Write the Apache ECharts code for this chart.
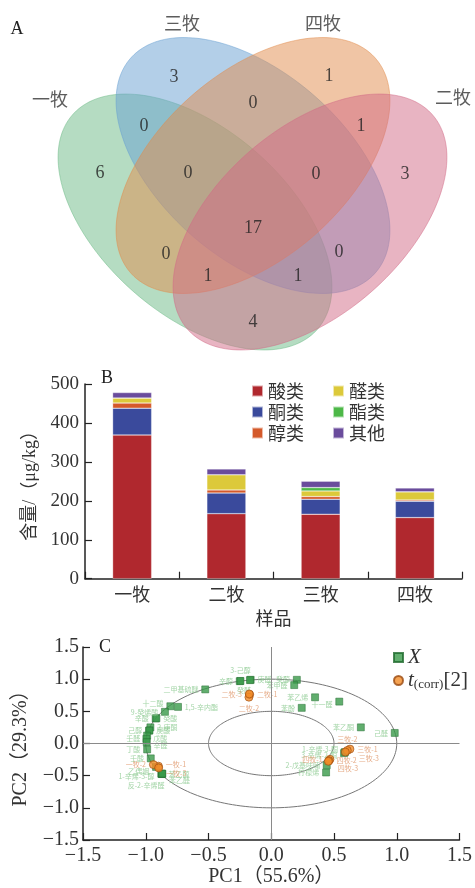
<!DOCTYPE html>
<html><head><meta charset="utf-8">
<script src="https://cdn.jsdelivr.net/npm/echarts@6/dist/echarts.min.js"></script>
<style>html,body{margin:0;padding:0;background:#fff}#c{width:475px;height:888px}</style>
</head><body><div id="c"></div>
<script>
const FONT = "'Liberation Serif','Noto Sans CJK SC',serif";
const CJK = "'Noto Sans CJK SC',sans-serif";

// ---------- Panel A data (Venn) ----------
const vennSetNames = ['一牧', '三牧', '四牧', '二牧'];
const vennRegionNames = ['一牧', '三牧', '四牧', '二牧', '一牧∩三牧', '三牧∩四牧', '四牧∩二牧',
  '一牧∩三牧∩四牧', '三牧∩四牧∩二牧', '一牧∩四牧', '全部', '三牧∩二牧', '一牧∩四牧∩二牧', '一牧∩三牧∩二牧', '一牧∩二牧'];
const vennCounts = [6, 3, 1, 3, 0, 0, 1, 0, 0, 0, 17, 0, 1, 1, 4];

// ---------- Panel B data (stacked bars) ----------
const barCategories = ['一牧', '二牧', '三牧', '四牧'];
const barSeriesNames = ['酸类', '酮类', '醇类', '醛类', '酯类', '其他'];
const acids = [369, 167, 165.5, 157];
const ketones = [69, 53, 38.5, 42];
const alcohols = [13, 8, 7, 3];
const aldehydes = [13, 39, 14.5, 21];
const esters = [0, 0, 8.5, 0];
const others = [14, 15, 16.4, 10];
const barValues = [acids, ketones, alcohols, aldehydes, esters, others];

// ---------- Panel C data (loading / score plot) ----------
const loadingNames = ['辛醇','3-己醇','庚醛','癸醛','癸醇','苯甲醛','二甲基硫醚','苯乙烯','十一醛','苯酚',
  '十二酸','1,5-辛内酯','9-癸烯酸','辛酸','癸酸','2-庚酮','己醇','庚酸','壬醛','戊酸','辛醛','丁酸','壬酸',
  '乙偶姻','苯乙醇','1-辛烯-3-醇','反-2-辛烯醛','苯乙醛','苯乙酮','己醛','1-辛烯-3-酮','3-辛烯-2-酮','2-戊基呋喃','柠檬烯'];
const loadingPC1 = [-0.251,-0.245,-0.164,-0.170,0.204,0.183,-0.526,0.349,0.542,0.243,
  -0.804,-0.743,-0.847,-0.921,-0.915,-0.963,-0.974,-0.970,-0.989,-0.995,-0.992,-0.989,-0.960,
  -0.918,-0.873,-0.876,-0.870,-0.868,0.714,0.984,0.587,0.580,0.442,0.437];
const loadingPC2 = [0.969,0.972,0.990,0.985,0.990,0.908,0.841,0.718,0.651,0.554,
  0.579,0.569,0.492,0.390,0.392,0.251,0.200,0.203,0.123,0.072,0.020,-0.092,-0.231,
  -0.364,-0.472,-0.470,-0.475,-0.468,0.251,0.164,-0.133,-0.150,-0.338,-0.451];
const sampleNames = ['一牧-1','一牧-2','一牧-3','二牧-1','二牧-2','二牧-3','三牧-1','三牧-2','三牧-3','四牧-1','四牧-2','四牧-3'];
const samplePC1 = [-0.899,-0.939,-0.897,-0.172,-0.178,-0.175,0.627,0.606,0.590,0.468,0.460,0.455];
const samplePC2 = [-0.352,-0.328,-0.379,0.760,0.720,0.770,-0.087,-0.108,-0.133,-0.246,-0.267,-0.277];
const circleRadii = [1, 0.5];

// ---------- Layout (positions / styles) ----------
const vennShapeLayout = [
  {cx:195, cy:222, dir:1,  color:'rgba(107,185,133,0.5)'},
  {cx:253, cy:165.5, dir:1, color:'rgba(103,159,209,0.5)'},
  {cx:253, cy:165.5, dir:-1, color:'rgba(225,139,75,0.5)'},
  {cx:310, cy:222, dir:-1, color:'rgba(209,105,133,0.5)'}
];
const VA = 157, VB = 90, VKX = 1.07;
const vennSetLabelPos = [[50,99],[182,23],[323,23],[453,97]];
const vennRegionPos = [[100,173],[174,77],[329,76],[405,174],[144,126],[253,103],[361,126],
  [188,173],[316,174],[166,254],[253,228],[339,252],[208,276],[298,276],[253,322]];
const barColors = ['#b0282e','#3a4a9c','#d4592a','#dcc93a','#4db848','#6a4c9c'];
const loadingLabelLayout = {
  '辛醇':['left'],'3-己醇':['top'],'庚醛':['right'],'癸醛':['bottom',[-6,0]],'癸醇':['left'],'苯甲醛':['left'],
  '二甲基硫醚':['left'],'苯乙烯':['left'],'十一醛':['left',[0,3]],'苯酚':['left'],'十二酸':['left',[0,-3]],
  '1,5-辛内酯':['right'],'9-癸烯酸':['left'],'辛酸':['left'],'癸酸':['right'],'2-庚酮':['right'],'己醇':['left'],
  '庚酸':['right'],'壬醛':['left',[0,3]],'戊酸':['right',[0,-1]],'辛醛':['right',[0,3]],'丁酸':['left'],'壬酸':['left'],
  '乙偶姻':['left',[0,4]],'苯乙醇':['right'],'1-辛烯-3-醇':['left',[0,3]],'反-2-辛烯醛':['bottom',[-16,1]],
  '苯乙醛':['right',[0,7]],'苯乙酮':['left'],'己醛':['left'],'1-辛烯-3-酮':['left',[0,-3]],'3-辛烯-2-酮':['left',[0,2]],
  '2-戊基呋喃':['left'],'柠檬烯':['left']
};
const sampleLabelLayout = {
  '一牧-1':['right',[0,-2]],'一牧-2':['left'],'一牧-3':['right',[0,5]],'二牧-1':['right'],'二牧-2':['bottom'],
  '二牧-3':['left'],'三牧-1':['right'],'三牧-2':['top'],'三牧-3':['right',[6,6]],'四牧-1':['left'],
  '四牧-2':['right'],'四牧-3':['right',[2,7]]
};

const chart = echarts.init(document.getElementById('c'), null, {renderer:'canvas'});

function fmtPC(v){ return v < 0 ? '\u2212' + Math.abs(v).toFixed(1) : v.toFixed(1); }

const series = [];
// Venn ellipses
series.push({
  type:'custom', xAxisIndex:0, yAxisIndex:0, silent:true, z:1,
  data: vennSetNames.map((n,i)=>({name:n, value:[i,0]})),
  renderItem: function(params, api){
    const L = vennShapeLayout[params.dataIndex];
    const pts = [];
    for (let k=0;k<=180;k++){
      const t = k/180*2*Math.PI;
      const ux = L.dir*(VA*Math.cos(t) - VB*Math.sin(t))/Math.SQRT2;
      const uy = (VA*Math.cos(t) + VB*Math.sin(t))/Math.SQRT2;
      pts.push(api.coord([L.cx + VKX*ux, L.cy + uy]));
    }
    return {type:'polygon', shape:{points:pts}, style:{fill:L.color, stroke:L.color, lineWidth:1}};
  }
});
// Venn region counts
series.push({
  type:'scatter', xAxisIndex:0, yAxisIndex:0, silent:true, z:5, symbolSize:1,
  itemStyle:{color:'rgba(0,0,0,0)'},
  label:{show:true, position:'inside', fontFamily:FONT, fontSize:18, color:'#222',
    formatter:p=>String(p.value[2])},
  data: vennRegionNames.map((n,i)=>({name:n, value:[vennRegionPos[i][0], vennRegionPos[i][1], vennCounts[i]]}))
});
// Venn set names
series.push({
  type:'scatter', xAxisIndex:0, yAxisIndex:0, silent:true, z:5, symbolSize:1,
  itemStyle:{color:'rgba(0,0,0,0)'},
  label:{show:true, position:'inside', fontFamily:CJK, fontSize:18, color:'#333', formatter:'{b}'},
  data: vennSetNames.map((n,i)=>({name:n, value:[vennSetLabelPos[i][0], vennSetLabelPos[i][1]]}))
});
// Bars
barSeriesNames.forEach((n,i)=>{
  series.push({
    name:n, type:'bar', stack:'total', xAxisIndex:1, yAxisIndex:1, barWidth:39,
    itemStyle:{color:barColors[i], borderColor:'rgba(255,255,255,0.6)', borderWidth:0.5},
    data: barValues[i]
  });
});
// PCA circles
series.push({
  type:'custom', xAxisIndex:2, yAxisIndex:2, silent:true, z:1,
  data: circleRadii.map(r=>[r,0]),
  renderItem: function(params, api){
    const r = api.value(0);
    const pts = [];
    for (let k=0;k<=180;k++){
      const t = k/180*2*Math.PI;
      pts.push(api.coord([r*Math.cos(t), r*Math.sin(t)]));
    }
    return {type:'polyline', shape:{points:pts}, style:{fill:null, stroke:'#777', lineWidth:1}};
  }
});
// Loadings
series.push({
  name:'X', type:'scatter', xAxisIndex:2, yAxisIndex:2, z:3, symbol:'rect', symbolSize:7,
  itemStyle:{color:'#3a9a4a', borderColor:'#1f6a2d', borderWidth:0.6},
  label:{show:true, formatter:'{b}', fontFamily:CJK, fontSize:7, color:'#8ccb91', distance:3},
  markLine:{silent:true, symbol:['none','none'], label:{show:false}, animation:false,
    lineStyle:{color:'#8a8a8a', type:'solid', width:1},
    data:[{xAxis:0},{yAxis:0}]},
  data: loadingNames.map((n,i)=>{
    const L = loadingLabelLayout[n] || ['right'];
    return {name:n, value:[loadingPC1[i], loadingPC2[i]], label:{position:L[0], offset:L[1]||[0,0]}};
  })
});
// Scores
series.push({
  name:'t(corr)[2]', type:'scatter', xAxisIndex:2, yAxisIndex:2, z:4, symbol:'circle', symbolSize:8,
  itemStyle:{color:'#f28c28', borderColor:'#9a4a10', borderWidth:0.8},
  label:{show:true, formatter:'{b}', fontFamily:CJK, fontSize:7, color:'#e0976a', distance:3},
  data: sampleNames.map((n,i)=>{
    const L = sampleLabelLayout[n] || ['right'];
    return {name:n, value:[samplePC1[i], samplePC2[i]], label:{position:L[0], offset:L[1]||[0,0]}};
  })
});

const axisLineDark = {show:true, onZero:false, lineStyle:{color:'#222', width:1.5}};

const option = {
  animation:false,
  backgroundColor:'#fff',
  grid:[
    {left:0, top:0, width:475, height:360},
    {left:85, top:384, width:377, height:194.7},
    {left:83, top:647, width:379, height:196}
  ],
  xAxis:[
    {gridIndex:0, type:'value', min:0, max:475, show:false},
    {gridIndex:1, type:'category', data:barCategories, axisLine:axisLineDark,
      axisTick:{show:true, inside:true, length:7, interval:0, lineStyle:{color:'#222', width:1.2}},
      axisLabel:{fontFamily:CJK, fontSize:18, color:'#333', margin:6},
      name:'样品', nameLocation:'middle', nameGap:30, nameTextStyle:{fontFamily:CJK, fontSize:18, color:'#333'}},
    {gridIndex:2, type:'value', min:-1.5, max:1.5, interval:0.5, axisLine:axisLineDark,
      splitLine:{show:false},
      axisTick:{show:true, inside:true, length:7, lineStyle:{color:'#222', width:1.2}},
      axisLabel:{fontFamily:FONT, fontSize:20, color:'#333', margin:6, formatter:fmtPC},
      name:'PC1（55.6%）', nameLocation:'middle', nameGap:27, nameTextStyle:{fontFamily:FONT, fontSize:20, color:'#333'}}
  ],
  yAxis:[
    {gridIndex:0, type:'value', min:0, max:360, inverse:true, show:false},
    {gridIndex:1, type:'value', min:0, max:500, interval:100, axisLine:axisLineDark,
      splitLine:{show:false},
      axisTick:{show:true, inside:true, length:7, lineStyle:{color:'#222', width:1.2}},
      axisLabel:{fontFamily:FONT, fontSize:19, color:'#333', margin:6},
      name:'含量/（μg/kg）', nameLocation:'middle', nameRotate:90, nameGap:46,
      nameTextStyle:{fontFamily:FONT, fontSize:18, color:'#333'}},
    {gridIndex:2, type:'value', min:-1.5, max:1.5, interval:0.5, axisLine:axisLineDark,
      splitLine:{show:false},
      axisTick:{show:true, inside:true, length:7, lineStyle:{color:'#222', width:1.2}},
      axisLabel:{fontFamily:FONT, fontSize:20, color:'#333', margin:4, formatter:fmtPC},
      name:'PC2（29.3%）', nameLocation:'middle', nameRotate:90, nameGap:52,
      nameTextStyle:{fontFamily:FONT, fontSize:20, color:'#333'}}
  ],
  legend:[
    {data:['酸类','酮类','醇类'], orient:'vertical', left:246, top:377, icon:'rect', itemWidth:11, itemHeight:11,
      itemGap:3, textStyle:{fontFamily:CJK, fontSize:18, color:'#333'}, selectedMode:false},
    {data:['醛类','酯类','其他'], orient:'vertical', left:327, top:377, icon:'rect', itemWidth:11, itemHeight:11,
      itemGap:3, textStyle:{fontFamily:CJK, fontSize:18, color:'#333'}, selectedMode:false},
    {data:[{name:'X', icon:'rect'},{name:'t(corr)[2]', icon:'circle'}], orient:'vertical', left:388, top:642,
      itemWidth:9, itemHeight:9, itemGap:2, selectedMode:false,
      formatter: n => n === 'X' ? '{i|X}' : '{i|t}{s|(corr)}{n|[2]}',
      textStyle:{fontFamily:FONT, fontSize:20, color:'#333',
        rich:{ i:{fontFamily:FONT, fontSize:21, fontStyle:'italic', color:'#333', lineHeight:22},
               s:{fontFamily:FONT, fontSize:13, color:'#333', verticalAlign:'bottom', lineHeight:13},
               n:{fontFamily:FONT, fontSize:21, color:'#333', lineHeight:22}}}}
  ],
  graphic:[
    {type:'text', x:17, y:29, style:{text:'A', font:"18px 'Liberation Serif'", fill:'#222', textAlign:'center', textVerticalAlign:'middle'}},
    {type:'text', x:107, y:378, style:{text:'B', font:"18px 'Liberation Serif'", fill:'#222', textAlign:'center', textVerticalAlign:'middle'}},
    {type:'text', x:105, y:647, style:{text:'C', font:"18px 'Liberation Serif'", fill:'#222', textAlign:'center', textVerticalAlign:'middle'}}
  ],
  series: series
};
chart.setOption(option);
</script></body></html>
